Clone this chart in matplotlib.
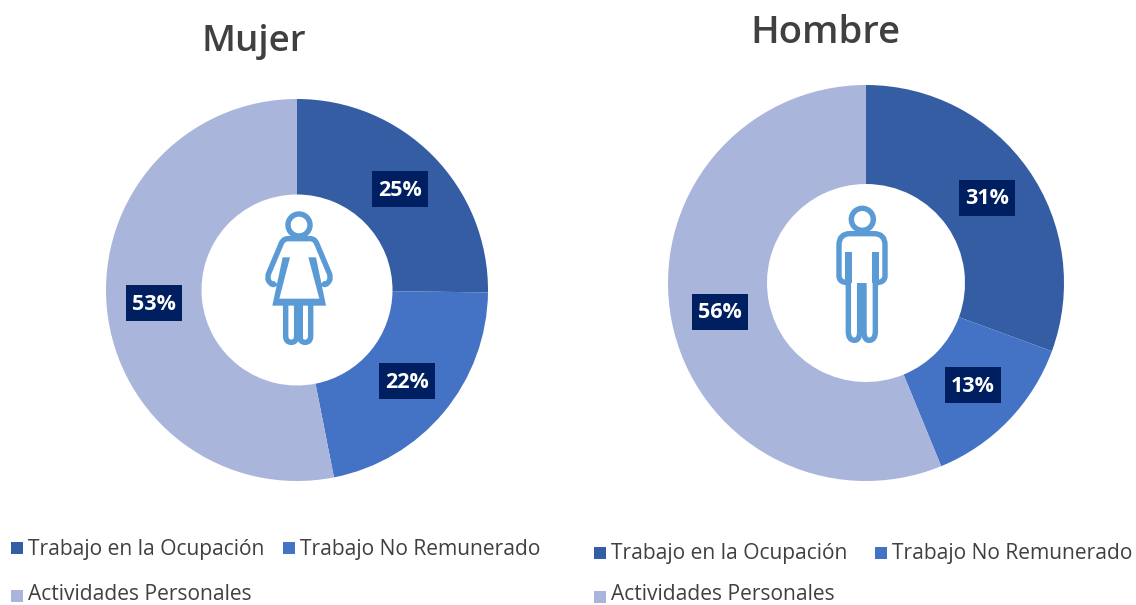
import matplotlib
matplotlib.use("Agg")
import matplotlib.pyplot as plt
from matplotlib.patches import Rectangle, Circle, Polygon, PathPatch
from matplotlib.path import Path

W, H = 1136, 605

categories = ["Trabajo en la Ocupación", "Trabajo No Remunerado", "Actividades Personales"]
mujer_values = [25.2, 21.7, 53.1]
hombre_values = [30.6, 13.2, 56.2]
colors = ["#355DA3", "#4472C4", "#A9B5DB"]

NAVY = "#001F60"
ICON = "#5B9BD5"
TEXT = "#404040"
plt.rcParams["font.family"] = ["Open Sans", "DejaVu Sans"]

fig = plt.figure(figsize=(W / 100, H / 100), dpi=100)


def draw_donut(values, cx, cy, r):
    ax = fig.add_axes([(cx - r) / W, 1 - (cy + r) / H, 2 * r / W, 2 * r / H])
    ax.pie(values, colors=colors, startangle=90, counterclock=False, radius=1,
           wedgeprops={"width": 0.5, "linewidth": 0})
    ax.set_xlim(-1, 1)
    ax.set_ylim(-1, 1)
    ax.axis("off")


draw_donut(mujer_values, 297, 290, 191)
draw_donut(hombre_values, 866, 283, 198)

# overlay in pixel coordinates for the labels and icons
ov = fig.add_axes([0, 0, 1, 1], zorder=5)
ov.set_xlim(0, W)
ov.set_ylim(H, 0)
ov.axis("off")


def value_label(val, x, y):
    ov.add_patch(Rectangle((x - 28, y - 18), 56, 36, color=NAVY, lw=0))
    ov.text(x, y + 1, str(round(val)) + "%", color="white", fontsize=15.5, fontweight="bold",
            ha="center", va="center")


value_label(mujer_values[0], 400, 189)
value_label(mujer_values[1], 407, 381)
value_label(mujer_values[2], 154, 303)
value_label(hombre_values[0], 987, 198)
value_label(hombre_values[1], 973, 385)
value_label(hombre_values[2], 720, 312)

ov.text(254, 42, "Mujer", color=TEXT, fontsize=26.5, fontweight="semibold", ha="center", va="center")
ov.text(825, 33, "Hombre", color=TEXT, fontsize=27.5, fontweight="semibold", ha="center", va="center")


def legend_item(i, x, y, text_dy=1):
    ov.add_patch(Rectangle((x, y - 6), 12, 12, color=colors[i], lw=0))
    ov.text(x + 17, y + text_dy, categories[i], color=TEXT, fontsize=15.1, ha="left", va="center")


legend_item(0, 11, 548)
legend_item(1, 283, 548)
legend_item(2, 11, 596, -1)
legend_item(0, 594, 553)
legend_item(1, 875, 553)
legend_item(2, 594, 597, -2)

LW = 3.9


def stroke(points, ox, oy):
    # points are in the 3x zoom scale of the icon, (x, y) or (x, y, "c") for a curve control
    verts = []
    codes = []
    for n, p in enumerate(points):
        verts.append((ox + p[0] / 3, oy + p[1] / 3))
        if n == 0:
            codes.append(Path.MOVETO)
        elif len(p) == 3:
            codes.append(Path.CURVE3)
        elif len(points[n - 1]) == 3:
            codes.append(Path.CURVE3)
        else:
            codes.append(Path.LINETO)
    ov.add_patch(PathPatch(Path(verts, codes), fill=False, edgecolor=ICON, lw=LW,
                           capstyle="butt", joinstyle="round"))


def fill(points, ox, oy):
    ov.add_patch(Polygon([(ox + p[0] / 3, oy + p[1] / 3) for p in points], closed=True,
                         color=ICON, lw=0))


def woman_icon(ox, oy):
    ov.add_patch(Circle((ox + 177 / 3, oy + 105 / 3), 33 / 3, fill=False, edgecolor=ICON, lw=LW))
    # shoulders and arms
    stroke([(108, 278), (98, 292, "c"), (86, 272), (81, 264, "c"), (86, 250), (124, 160),
            (130, 146, "c"), (144, 146), (210, 146), (224, 146, "c"), (230, 160), (268, 250),
            (273, 264, "c"), (268, 272), (256, 292, "c"), (246, 278)], ox, oy)
    # dress
    fill([(128, 202), (150, 202), (118, 326), (238, 326), (205, 202), (228, 202),
          (258, 347), (97, 347)], ox, oy)
    # legs
    stroke([(137, 340), (137, 438), (137, 457, "c"), (154, 457), (170, 457, "c"), (170, 438),
            (170, 330)], ox, oy)
    stroke([(212, 340), (212, 438), (212, 457, "c"), (195, 457), (179, 457, "c"), (179, 438),
            (179, 330)], ox, oy)
    fill([(165, 330), (190, 330), (190, 445), (165, 445)], ox, oy)


def man_icon(ox, oy):
    ov.add_patch(Circle((ox + 157 / 3, oy + 88 / 3), 33 / 3, fill=False, edgecolor=ICON, lw=LW))
    # shoulders and arms
    stroke([(115, 278), (87, 278, "c"), (87, 258), (87, 165), (87, 131, "c"), (120, 131),
            (192, 131), (225, 131, "c"), (225, 165), (225, 258), (225, 278, "c"), (197, 278)], ox, oy)
    # legs
    stroke([(115, 187), (115, 425), (115, 451, "c"), (134, 451), (149, 451, "c"), (149, 425),
            (149, 280)], ox, oy)
    stroke([(196, 187), (196, 425), (196, 451, "c"), (177, 451), (162, 451, "c"), (162, 425),
            (162, 280)], ox, oy)
    fill([(105, 187), (127, 187), (127, 280), (105, 280)], ox, oy)
    fill([(185, 187), (207, 187), (207, 280), (185, 280)], ox, oy)
    fill([(142, 278), (169, 278), (169, 435), (142, 435)], ox, oy)


woman_icon(240, 190)
man_icon(810, 190)

plt.savefig("out.png", dpi=100)
